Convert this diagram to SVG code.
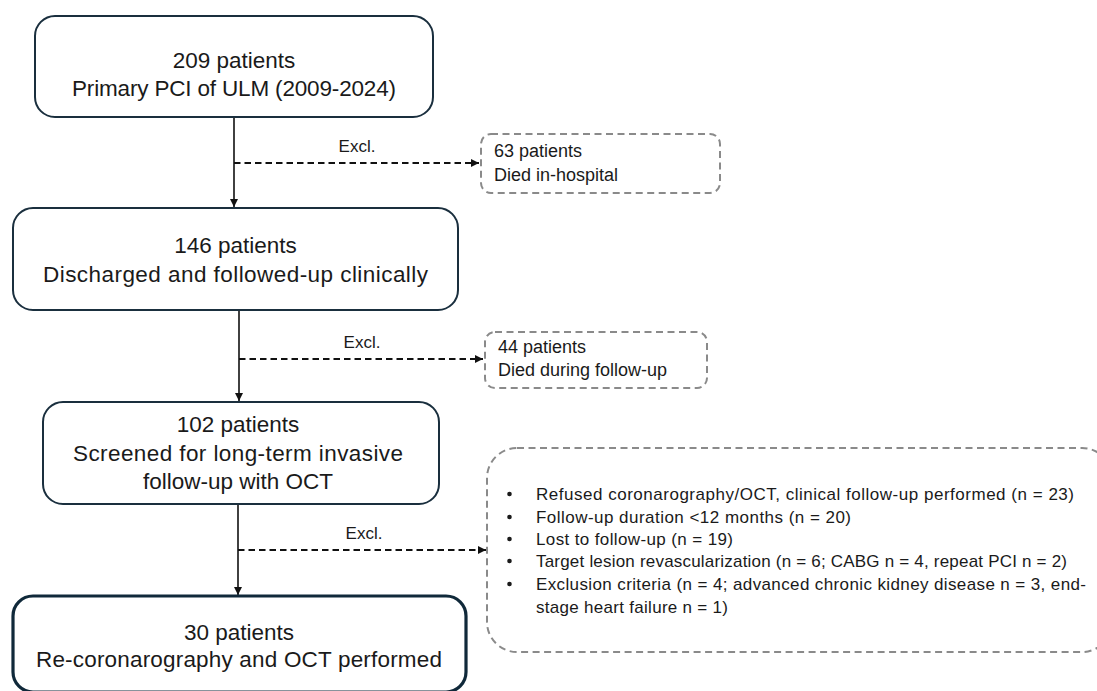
<svg xmlns="http://www.w3.org/2000/svg" width="1097" height="691" viewBox="0 0 1097 691">
<defs>
<style>
.box{fill:#fff;stroke:#1a2f3e;stroke-width:2}
.final{fill:#fff;stroke:#10293a;stroke-width:3.2}
.excl{fill:#fff;stroke:#8a8a8a;stroke-width:2;stroke-dasharray:7 4.5}
.main{font-family:"Liberation Sans",Arial,sans-serif;font-size:22.5px;fill:#1a1a1a;text-anchor:middle}
.small{font-family:"Liberation Sans",Arial,sans-serif;font-size:18px;fill:#1a1a1a}
.lab{font-family:"Liberation Sans",Arial,sans-serif;font-size:17px;fill:#1a1a1a;text-anchor:middle}
.list{font-family:"Liberation Sans",Arial,sans-serif;font-size:17px;fill:#1a1a1a}
.solid{stroke:#111;stroke-width:1.6;fill:none}
.dash{stroke:#111;stroke-width:2;fill:none;stroke-dasharray:6.5 4}
</style>
<marker id="ah" markerWidth="10" markerHeight="10" refX="8" refY="4" orient="auto" markerUnits="userSpaceOnUse">
<path d="M0,0 L8,4 L0,8 Z" fill="#111"/>
</marker>
</defs>
<rect width="1097" height="691" fill="#fff"/>

<g id="connectors">
<line class="solid" x1="234" y1="117" x2="234" y2="207" marker-end="url(#ah)"/>
<line class="dash" x1="234" y1="163" x2="479" y2="163" marker-end="url(#ah)"/>
<text class="lab" x="357" y="152">Excl.</text>
<line class="solid" x1="239" y1="310" x2="239" y2="401" marker-end="url(#ah)"/>
<line class="dash" x1="239" y1="359" x2="483" y2="359" marker-end="url(#ah)"/>
<text class="lab" x="362" y="348">Excl.</text>
<line class="solid" x1="238" y1="504" x2="238" y2="595" marker-end="url(#ah)"/>
<line class="dash" x1="238" y1="550" x2="486" y2="550" marker-end="url(#ah)"/>
<text class="lab" x="364" y="539">Excl.</text>
</g>

<g id="n209">
<rect class="box" x="35" y="16" width="398" height="101" rx="20"/>
<text class="main" x="234" y="68">209 patients</text>
<text class="main" x="234" y="96" textLength="324">Primary PCI of ULM (2009-2024)</text>
</g>

<g id="n63">
<rect class="excl" x="481" y="134" width="239" height="59" rx="10"/>
<text class="small" x="494" y="157">63 patients</text>
<text class="small" x="494" y="181">Died in-hospital</text>
</g>

<g id="n146">
<rect class="box" x="13" y="208" width="445" height="102" rx="20"/>
<text class="main" x="235.5" y="253">146 patients</text>
<text class="main" x="235.5" y="282" textLength="385">Discharged and followed-up clinically</text>
</g>

<g id="n44">
<rect class="excl" x="485" y="332" width="222" height="56" rx="10"/>
<text class="small" x="498" y="353">44 patients</text>
<text class="small" x="498" y="376">Died during follow-up</text>
</g>

<g id="n102">
<rect class="box" x="43" y="402" width="396" height="102" rx="20"/>
<text class="main" x="238" y="432">102 patients</text>
<text class="main" x="238" y="461" textLength="330">Screened for long-term invasive</text>
<text class="main" x="238" y="489">follow-up with OCT</text>
</g>

<g id="nlist">
<rect class="excl" x="487" y="448" width="625" height="204" rx="30"/>
<g fill="#1a1a1a">
<circle cx="509.5" cy="494" r="2.3"/>
<circle cx="509.5" cy="517" r="2.3"/>
<circle cx="509.5" cy="539" r="2.3"/>
<circle cx="509.5" cy="561" r="2.3"/>
<circle cx="509.5" cy="584" r="2.3"/>
</g>
<text class="list" x="536" y="500" textLength="538">Refused coronarography/OCT, clinical follow-up performed (n = 23)</text>
<text class="list" x="536" y="523" textLength="315">Follow-up duration &lt;12 months (n = 20)</text>
<text class="list" x="536" y="545" textLength="197">Lost to follow-up (n = 19)</text>
<text class="list" x="536" y="567" textLength="531">Target lesion revascularization (n = 6; CABG n = 4, repeat PCI n = 2)</text>
<text class="list" x="536" y="590" textLength="550">Exclusion criteria (n = 4; advanced chronic kidney disease n = 3, end-</text>
<text class="list" x="536" y="613" textLength="192">stage heart failure n = 1)</text>
</g>

<g id="n30">
<rect class="final" x="13" y="596" width="453" height="96" rx="20"/>
<text class="main" x="239" y="640">30 patients</text>
<text class="main" x="239" y="667" textLength="406">Re-coronarography and OCT performed</text>
</g>
</svg>
